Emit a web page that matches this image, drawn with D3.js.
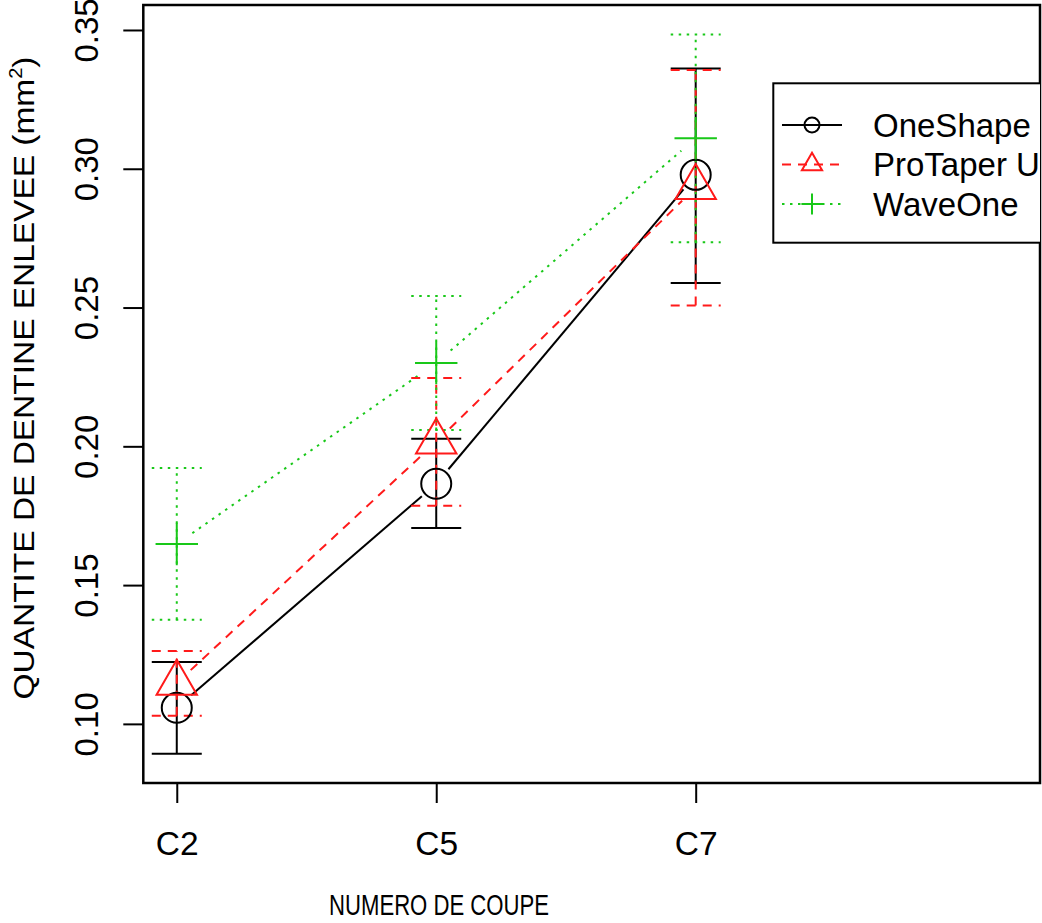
<!DOCTYPE html>
<html>
<head>
<meta charset="utf-8">
<script src="https://cdn.jsdelivr.net/npm/d3@7"></script>
<style>
  html, body { margin: 0; padding: 0; background: #fff; }
  svg { display: block; }
  text { font-family: "Liberation Sans", Arial, Helvetica, sans-serif; fill: #000; }
</style>
</head>
<body>
<svg id="chart" width="1042" height="923"></svg>
<script>
// ---- data ----
const categories = ["C2", "C5", "C7"];
const seriesNames = ["OneShape", "ProTaper Universal", "WaveOne"];
const oneShapeMean  = [0.1058, 0.1865, 0.2978];
const oneShapeUpper = [0.1223, 0.2027, 0.3361];
const oneShapeLower = [0.0892, 0.1706, 0.2588];
const proTaperMean  = [0.1147, 0.2016, 0.2933];
const proTaperUpper = [0.1263, 0.2246, 0.3356];
const proTaperLower = [0.1029, 0.1786, 0.2507];
const waveOneMean   = [0.1648, 0.2300, 0.3110];
const waveOneUpper  = [0.1922, 0.2542, 0.3484];
const waveOneLower  = [0.1375, 0.2059, 0.2735];
const yTickValues = [0.10, 0.15, 0.20, 0.25, 0.30, 0.35];
const xTitle = "NUMERO DE COUPE";
const yTitle = "QUANTITE DE DENTINE ENLEVEE (mm";

// ---- layout ----
const svg = d3.select("#chart");
const box = { left: 143.3, right: 1040, top: 5, bottom: 783 };
const x = d3.scaleLinear().domain([0.871, 4.327]).range([box.left, box.right]);
const y = d3.scaleLinear().domain([0.0787, 0.359]).range([box.bottom, box.top]);

const series = [
  { name: seriesNames[0], mean: oneShapeMean, upper: oneShapeUpper, lower: oneShapeLower,
    color: "#000000", dash: null, shape: "circle" },
  { name: seriesNames[1], mean: proTaperMean, upper: proTaperUpper, lower: proTaperLower,
    color: "#ff1a1a", dash: "9,7", shape: "triangle" },
  { name: seriesNames[2], mean: waveOneMean, upper: waveOneUpper, lower: waveOneLower,
    color: "#19c819", dash: "2.5,5.5", shape: "plus" }
];

const lw = 2;
const gap = 19;
const capHalf = 25;

function drawMarker(g, shape, cx, cy, size, color) {
  if (shape === "circle") {
    g.append("circle").attr("cx", cx).attr("cy", cy).attr("r", size)
      .attr("fill", "none").attr("stroke", color).attr("stroke-width", lw);
  } else if (shape === "triangle") {
    const r = size * 1.555;
    const hx = r * Math.sqrt(3) / 2;
    g.append("path")
      .attr("d", `M${cx},${cy - r}L${cx + hx},${cy + r / 2}L${cx - hx},${cy + r / 2}Z`)
      .attr("fill", "none").attr("stroke", color).attr("stroke-width", lw);
  } else {
    const h = size * Math.SQRT2;
    g.append("path")
      .attr("d", `M${cx - h},${cy}H${cx + h}M${cx},${cy - h}V${cy + h}`)
      .attr("fill", "none").attr("stroke", color).attr("stroke-width", lw);
  }
}

const clip = svg.append("defs").append("clipPath").attr("id", "plotclip");
clip.append("rect").attr("x", box.left).attr("y", box.top)
  .attr("width", box.right - box.left).attr("height", box.bottom - box.top);

const plot = svg.append("g").attr("clip-path", "url(#plotclip)");

// connecting lines (type "b": gaps around points)
series.forEach(s => {
  for (let i = 0; i < categories.length - 1; i++) {
    const x0 = x(i + 1), y0 = y(s.mean[i]);
    const x1 = x(i + 2), y1 = y(s.mean[i + 1]);
    const dx = x1 - x0, dy = y1 - y0, L = Math.hypot(dx, dy);
    const ux = dx / L, uy = dy / L;
    plot.append("line")
      .attr("x1", x0 + ux * gap).attr("y1", y0 + uy * gap)
      .attr("x2", x1 - ux * gap).attr("y2", y1 - uy * gap)
      .attr("stroke", s.color).attr("stroke-width", lw)
      .attr("stroke-dasharray", s.dash);
  }
});

// error bars
series.forEach(s => {
  s.mean.forEach((m, i) => {
    const cx = x(i + 1);
    const g = plot.append("g").attr("stroke", s.color).attr("stroke-width", lw)
      .attr("stroke-dasharray", s.dash).attr("fill", "none");
    g.append("line").attr("x1", cx).attr("x2", cx).attr("y1", y(s.lower[i])).attr("y2", y(s.upper[i]));
    g.append("line").attr("x1", cx - capHalf).attr("x2", cx + capHalf).attr("y1", y(s.upper[i])).attr("y2", y(s.upper[i]));
    g.append("line").attr("x1", cx - capHalf).attr("x2", cx + capHalf).attr("y1", y(s.lower[i])).attr("y2", y(s.lower[i]));
  });
});

// markers
series.forEach(s => {
  s.mean.forEach((m, i) => drawMarker(plot, s.shape, x(i + 1), y(m), 15, s.color));
});

// ---- axes ----
const yAxis = d3.axisLeft(y).tickValues(yTickValues).tickSize(20).tickFormat(d3.format(".2f"));
const yg = svg.append("g").attr("transform", `translate(${box.left},0)`).call(yAxis);
yg.select(".domain").remove();
yg.selectAll(".tick line").attr("stroke", "#000").attr("stroke-width", lw);
yg.selectAll(".tick text")
  .attr("x", null).attr("dy", null)
  .attr("transform", "translate(-45.5,0) rotate(-90)")
  .attr("text-anchor", "middle")
  .attr("font-size", 33)
  .attr("font-family", "'Liberation Sans', Arial, sans-serif")
  .attr("fill", "#000");

const xAxis = d3.axisBottom(x).tickValues([1, 2, 3]).tickSize(20)
  .tickFormat((d) => categories[d - 1]);
const xg = svg.append("g").attr("transform", `translate(0,${box.bottom})`).call(xAxis);
xg.select(".domain").remove();
xg.selectAll(".tick line").attr("stroke", "#000").attr("stroke-width", lw);
xg.selectAll(".tick text")
  .attr("y", 72).attr("dy", null)
  .attr("font-size", 33.5)
  .attr("font-family", "'Liberation Sans', Arial, sans-serif")
  .attr("fill", "#000");

// plot frame
svg.append("rect").attr("x", box.left).attr("y", box.top)
  .attr("width", box.right - box.left).attr("height", box.bottom - box.top)
  .attr("fill", "none").attr("stroke", "#000").attr("stroke-width", 2.5);

// axis titles
svg.append("text")
  .attr("x", 439).attr("y", 915)
  .attr("text-anchor", "middle")
  .attr("font-size", 30)
  .attr("textLength", 220).attr("lengthAdjust", "spacingAndGlyphs")
  .text(xTitle);

const yt = svg.append("text")
  .attr("transform", "translate(34,378) rotate(-90)")
  .attr("text-anchor", "middle")
  .attr("font-size", 30)
  .attr("textLength", 643).attr("lengthAdjust", "spacingAndGlyphs");
yt.append("tspan").text(yTitle);
yt.append("tspan").attr("font-size", 18).attr("dy", -12).text("2");
yt.append("tspan").attr("dy", 12).text(")");

// ---- legend ----
const leg = svg.append("g").attr("clip-path", "url(#plotclip)");
leg.append("rect").attr("x", 773.3).attr("y", 83.3)
  .attr("width", box.right - 773.3 + 20).attr("height", 159.4)
  .attr("fill", "#fff").attr("stroke", "#000").attr("stroke-width", 2);
const rowY = d3.scalePoint().domain(seriesNames).range([125, 204]);
series.forEach(s => {
  const cy = rowY(s.name);
  leg.append("line").attr("x1", 782).attr("x2", 842).attr("y1", cy).attr("y2", cy)
    .attr("stroke", s.color).attr("stroke-width", lw).attr("stroke-dasharray", s.dash);
  drawMarker(leg, s.shape, 812, cy, 7.5, s.color);
  leg.append("text").attr("x", 873).attr("y", cy + 11.5)
    .attr("font-size", 33).text(s.name);
});
</script>
</body>
</html>
